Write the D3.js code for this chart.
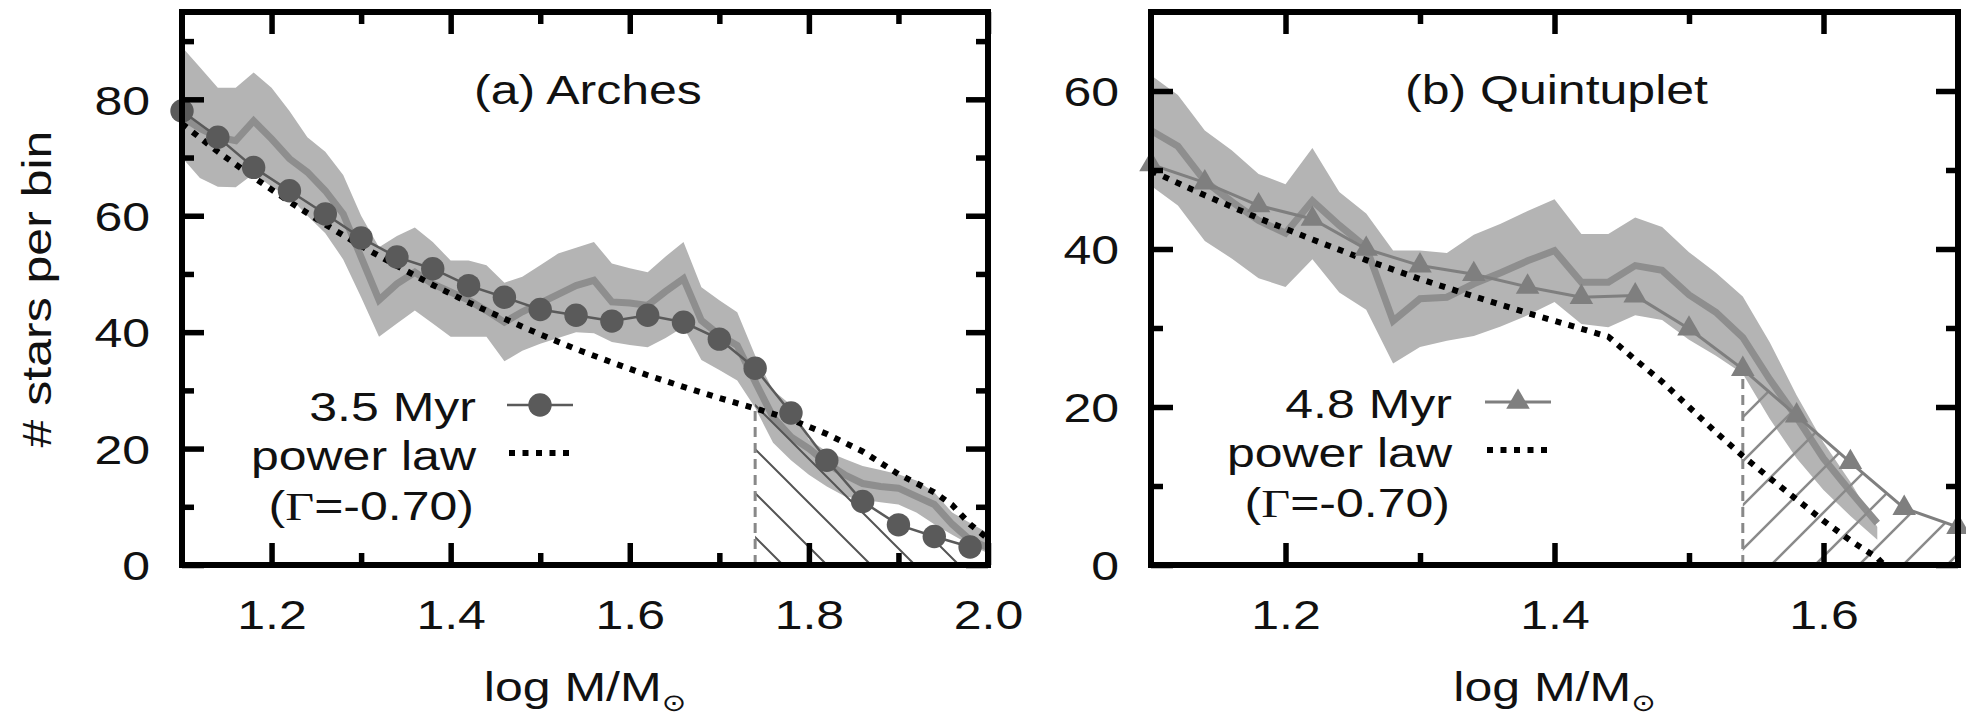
<!DOCTYPE html>
<html>
<head>
<meta charset="utf-8">
<script src="https://cdn.jsdelivr.net/npm/d3@7"></script>
<style>
body { margin: 0; background: #fff; }
text { font-family: "Liberation Sans", Arial, sans-serif; fill: #111; }
</style>
</head>
<body>
<div id="chart"></div>
<script>
// ---- (a) Arches ----
var archesModelX = [1.10,1.14,1.18,1.22,1.26,1.30,1.34,1.38,1.42,1.46,1.50,1.54,1.58,1.62,1.66,1.70,1.74,1.78,1.82,1.86,1.90,1.94,1.98];
var archesModel  = [78.0,73.5,68.3,64.3,60.3,56.2,52.9,50.9,48.0,46.0,43.9,42.9,41.9,42.9,41.7,38.8,33.8,26.1,18.0,10.9,6.9,4.9,3.1];
var archesBandX = [1.10,1.12,1.14,1.16,1.18,1.20,1.22,1.24,1.26,1.28,1.30,1.32,1.34,1.36,1.38,1.40,1.42,1.44,1.46,1.48,1.50,1.52,1.54,1.56,1.58,1.60,1.62,1.64,1.66,1.68,1.70,1.72,1.74,1.76,1.78,1.80,1.82,1.84,1.86,1.88,1.90,1.92,1.94,1.96,1.98,2.00];
var archesMean = [77,75,73.5,72.9,76.3,73.2,69.8,67.5,64.3,60.3,52.9,45.5,48.3,50.3,48.3,46.9,45.5,43.7,41.7,43.5,45,46.5,48,48.9,45.2,45.0,44.6,47,49.2,42.0,39.5,37.7,31.5,25.4,22.0,20.0,17.5,15.5,14.0,13.5,13.2,11.8,10.4,7.0,4.3,3.0];
var archesHi = [89,85.5,82,82,84.6,82,78,73.5,71,67,60,54.6,56.5,58,55.5,52.3,52.3,51.5,48.5,49.5,51.5,53.5,54.5,55.5,51.8,51,50.3,53,55.5,47.7,45.5,43.4,36,30,27.5,21.5,19.5,18.2,17,16.3,15.6,14.5,12.5,9,7.2,5.5];
var archesLo = [70,66.5,65,64.9,67.2,65,63.2,60,57,52.5,46,39.2,41.5,43.7,41.5,39.2,39.2,39.2,35,36.8,38,39,40,39.8,38.3,37.8,37.4,39,40.9,35.2,33.5,31.7,27,21,18,15.5,13.5,11.8,11.2,10.8,10.4,9,7,5.2,3.5,2];
var archesPowX = [1.10,1.14,1.18,1.22,1.26,1.30,1.34,1.38,1.42,1.46,1.50,1.54,1.58,1.62,1.66,1.70,1.74,1.78,1.82,1.86,1.90,1.94,1.96,1.98,2.00];
var archesPow  = [75.8,71.0,66.6,62.4,58.5,54.8,51.4,48.1,45.1,42.3,39.6,37.1,34.8,32.6,30.6,28.7,26.9,25.0,22.5,19.5,15.6,12.5,10.3,7.0,4.5];
var archesCut = [1.74, 26.9];
var archesXMajor = [1.2,1.4,1.6,1.8,2.0], archesXMinor = [1.3,1.5,1.7,1.9];
var archesYMajor = [0,20,40,60,80], archesYMinor = [10,30,50,70,90];

// ---- (b) Quintuplet ----
var quintModelX = [1.10,1.14,1.18,1.22,1.26,1.30,1.34,1.38,1.42,1.46,1.50,1.54,1.58,1.62,1.66,1.70];
var quintModel  = [50.7,48.4,45.5,43.8,40.0,37.9,36.8,35.2,33.9,34.1,29.9,24.8,18.9,13.0,7.2,4.8];
var quintBandX = [1.10,1.12,1.14,1.16,1.18,1.20,1.22,1.24,1.26,1.28,1.30,1.32,1.34,1.36,1.38,1.40,1.42,1.44,1.46,1.48,1.50,1.52,1.54,1.56,1.58,1.60,1.62,1.64];
var quintMean = [55,53,48.6,46,43.6,42,46.1,43,40.2,30.9,33.7,33.9,35.6,37,38.5,39.8,35.8,35.8,37.9,37.3,34.2,32,28.8,23.5,18.7,13.5,9.3,5.3];
var quintHi = [62,59.5,55,52.5,49.5,48.2,52.8,47.2,44.5,39.8,39.8,39.5,41.8,43.2,44.8,46.3,41.9,41.9,44,42.8,39.6,37,34,28.2,21.5,15.5,10.5,4.8];
var quintLo = [48,45.5,41,38.8,36.3,35.2,38.7,34.5,32.3,25.5,27.6,28.4,29,30.2,31.6,33.3,30.5,30.1,31.6,31,28.5,26.5,24.2,18.5,13.5,9.5,6.2,3.2];
var quintPowX = [1.10,1.14,1.18,1.22,1.26,1.30,1.34,1.38,1.42,1.44,1.46,1.48,1.50,1.52,1.54,1.56,1.58,1.60,1.62,1.64,1.645];
var quintPow  = [49.9,46.8,43.9,41.2,38.6,36.2,34.0,31.9,29.9,28.9,26.0,23.2,20.0,16.8,13.8,11.0,8.3,5.6,3.1,0.9,0];
var quintCut = [1.54, 24.8];
var quintXMajor = [1.2,1.4,1.6], quintXMinor = [1.3,1.5];
var quintYMajor = [0,20,40,60], quintYMinor = [10,30,50];

var W = 1966, H = 720;
var FS = 41, SX = 1.22;   // the original lettering is wide: ~41px tall, ~50px per em across

var svg = d3.select('#chart').append('svg')
    .attr('width', W)
    .attr('height', H);
var defs = svg.append('defs');

// hatch patterns
defs.append('pattern').attr('id', 'hatchA')
    .attr('patternUnits', 'userSpaceOnUse').attr('width', 44).attr('height', 44)
    .attr('patternTransform', 'translate(0,2)')
    .append('path').attr('d', 'M-11,-11L55,55M-11,33L11,55M33,-11L55,11')
    .attr('stroke', '#555').attr('stroke-width', 2);
defs.append('pattern').attr('id', 'hatchB')
    .attr('patternUnits', 'userSpaceOnUse').attr('width', 44).attr('height', 44)
    .attr('patternTransform', 'translate(0,4)')
    .append('path').attr('d', 'M-11,55L55,-11M-11,11L11,-11M33,55L55,33')
    .attr('stroke', '#8a8a8a').attr('stroke-width', 2.5);

function label(g, x, y, s, anchor) {
    return g.append('text')
        .attr('transform', 'translate(' + x + ',' + y + ') scale(' + SX + ',1)')
        .attr('text-anchor', anchor || 'start')
        .attr('font-size', FS)
        .text(s);
}

function zip(xs, ys) { return xs.map(function(x, i) { return [x, ys[i]]; }); }

function panel(c) {
    var x = d3.scaleLinear().domain(c.xDomain).range([c.left, c.right]);
    var y = d3.scaleLinear().domain(c.yDomain).range([c.bottom, c.top]);
    var g = svg.append('g');

    defs.append('clipPath').attr('id', c.id + 'clip')
        .append('rect').attr('x', c.left).attr('y', c.top)
        .attr('width', c.right - c.left).attr('height', c.bottom - c.top);

    var plot = g.append('g').attr('clip-path', 'url(#' + c.id + 'clip)');

    // shaded band + mean line
    var area = d3.area()
        .x(function(d, i) { return x(c.bandX[i]); })
        .y0(function(d, i) { return y(c.lo[i]); })
        .y1(function(d, i) { return y(c.hi[i]); });
    plot.append('path').datum(c.bandX).attr('d', area).attr('fill', '#b4b4b4');

    var line = d3.line().x(function(d) { return x(d[0]); }).y(function(d) { return y(d[1]); });
    plot.append('path').datum(zip(c.bandX, c.mean)).attr('d', line)
        .attr('fill', 'none').attr('stroke', '#8e8e8e').attr('stroke-width', 7);

    // hatched region under the model beyond the cut
    var under = zip(c.modelX, c.model).filter(function(d) { return d[0] >= c.cut[0] - 1e-9; });
    var hatchPts = [[c.cut[0], 0]].concat(under).concat([[under[under.length - 1][0], 0]]);
    plot.append('path').attr('d', line(hatchPts) + 'Z')
        .attr('fill', 'url(#' + c.hatch + ')');

    // dashed cut
    plot.append('line')
        .attr('x1', x(c.cut[0])).attr('x2', x(c.cut[0]))
        .attr('y1', y(0)).attr('y2', y(c.cut[1]))
        .attr('stroke', '#888').attr('stroke-width', 3).attr('stroke-dasharray', '10,6');

    // model line + markers
    plot.append('path').datum(zip(c.modelX, c.model)).attr('d', line)
        .attr('fill', 'none').attr('stroke', c.markColor).attr('stroke-width', c.thin);
    var sym = d3.symbol().type(c.symbol).size(c.symSize);
    g.selectAll('.mk' + c.id).data(zip(c.modelX, c.model)).enter()
        .append('path').attr('class', 'mk' + c.id)
        .attr('d', sym)
        .attr('transform', function(d) { return 'translate(' + x(d[0]) + ',' + y(d[1]) + ')'; })
        .attr('fill', c.markColor);

    // power law (dotted)
    plot.append('path').datum(zip(c.powX, c.pow)).attr('d', line)
        .attr('fill', 'none').attr('stroke', '#000').attr('stroke-width', 6)
        .attr('stroke-dasharray', '6,7.5');

    // axes: major + minor on all four sides, ticks inward
    function ax(gen, pos, vals, len, lab) {
        var a = gen.tickValues(vals).tickSize(-len).tickPadding(lab ? lab : 0);
        if (!lab) a.tickFormat('');
        var s = g.append('g').attr('transform', pos).call(a);
        s.select('.domain').remove();
        s.selectAll('line').attr('stroke', '#000').attr('stroke-width', 5.5);
        s.selectAll('text').attr('font-size', FS).attr('fill', '#111')
            .style('font-family', '"Liberation Sans", Arial, sans-serif');
        return s;
    }
    var bx = ax(d3.axisBottom(x).tickFormat(d3.format('.1f')), 'translate(0,' + c.bottom + ')', c.xMajor, 22, 35);
    bx.selectAll('text').attr('transform', 'scale(' + SX + ',1)');
    ax(d3.axisBottom(x), 'translate(0,' + c.bottom + ')', c.xMinor, 12);
    ax(d3.axisTop(x), 'translate(0,' + c.top + ')', c.xMajor, 22);
    ax(d3.axisTop(x), 'translate(0,' + c.top + ')', c.xMinor, 12);
    var ly = ax(d3.axisLeft(y).tickFormat(d3.format('d')), 'translate(' + c.left + ',0)', c.yMajor, 22, 32);
    ly.selectAll('text').attr('transform', 'scale(' + SX + ',1)')
        .attr('x', -32 / SX).attr('dy', '0.36em');
    ax(d3.axisLeft(y), 'translate(' + c.left + ',0)', c.yMinor, 12);
    ax(d3.axisRight(y), 'translate(' + c.right + ',0)', c.yMajor, 22);
    ax(d3.axisRight(y), 'translate(' + c.right + ',0)', c.yMinor, 12);

    // frame
    g.append('rect').attr('x', c.left).attr('y', c.top)
        .attr('width', c.right - c.left).attr('height', c.bottom - c.top)
        .attr('fill', 'none').attr('stroke', '#000').attr('stroke-width', 6);

    // title
    label(g, c.titleX, 104, c.title, 'start');

    // legend
    var L = c.leg;
    label(g, L.x, L.y0, c.name, 'end');
    label(g, L.x, L.y0 + 49, 'power law', 'end');
    var gt = g.append('text')
        .attr('transform', 'translate(' + (L.x - 2) + ',' + (L.y0 + 99) + ') scale(' + SX + ',1)')
        .attr('text-anchor', 'end').attr('font-size', FS);
    gt.append('tspan').text('(');
    gt.append('tspan').style('font-family', '"Liberation Serif", "DejaVu Serif", serif').text('\u0393');
    gt.append('tspan').text('=-0.70)');

    g.append('line').attr('x1', L.sx).attr('x2', L.sx + 66)
        .attr('y1', L.y0 - 16).attr('y2', L.y0 - 16)
        .attr('stroke', c.markColor).attr('stroke-width', c.thin);
    g.append('path').attr('d', sym)
        .attr('transform', 'translate(' + (L.sx + 33) + ',' + (L.y0 - 16) + ')')
        .attr('fill', c.markColor);
    g.append('line').attr('x1', L.sx + 2).attr('x2', L.sx + 66)
        .attr('y1', L.y0 + 32).attr('y2', L.y0 + 32)
        .attr('stroke', '#000').attr('stroke-width', 6).attr('stroke-dasharray', '6,7.5');

    // axis label
    var xl = g.append('text')
        .attr('transform', 'translate(' + ((c.left + c.right) / 2) + ',701) scale(' + SX + ',1)')
        .attr('text-anchor', 'middle').attr('font-size', FS);
    xl.append('tspan').text('log M/M');
    xl.append('tspan').attr('font-size', 24).attr('dy', 10)
        .style('font-family', '"DejaVu Sans", sans-serif').text('\u2299');
}

panel({
    id: 'a', left: 182, right: 988, top: 12, bottom: 565,
    xDomain: [1.1, 2.0], yDomain: [0, 95],
    bandX: archesBandX, mean: archesMean, hi: archesHi, lo: archesLo,
    modelX: archesModelX, model: archesModel, powX: archesPowX, pow: archesPow,
    cut: archesCut, hatch: 'hatchA',
    symbol: d3.symbolCircle, symSize: 430, markColor: '#5a5a5a', thin: 2.5,
    xMajor: archesXMajor, xMinor: archesXMinor, yMajor: archesYMajor, yMinor: archesYMinor,
    title: '(a) Arches', titleX: 474, name: '3.5 Myr',
    leg: {x: 476, y0: 421, sx: 507}
});

panel({
    id: 'b', left: 1151, right: 1958, top: 12, bottom: 565,
    xDomain: [1.1, 1.7], yDomain: [0, 70],
    bandX: quintBandX, mean: quintMean, hi: quintHi, lo: quintLo,
    modelX: quintModelX, model: quintModel, powX: quintPowX, pow: quintPow,
    cut: quintCut, hatch: 'hatchB',
    symbol: d3.symbolTriangle, symSize: 240, markColor: '#7f7f7f', thin: 3,
    xMajor: quintXMajor, xMinor: quintXMinor, yMajor: quintYMajor, yMinor: quintYMinor,
    title: '(b) Quintuplet', titleX: 1405, name: '4.8 Myr',
    leg: {x: 1452, y0: 418, sx: 1485}
});

// y axis label (left panel only)
svg.append('text')
    .attr('transform', 'translate(51,289) rotate(-90) scale(' + SX + ',1)')
    .attr('text-anchor', 'middle').attr('font-size', FS)
    .text('# stars per bin');
</script>
</body>
</html>
